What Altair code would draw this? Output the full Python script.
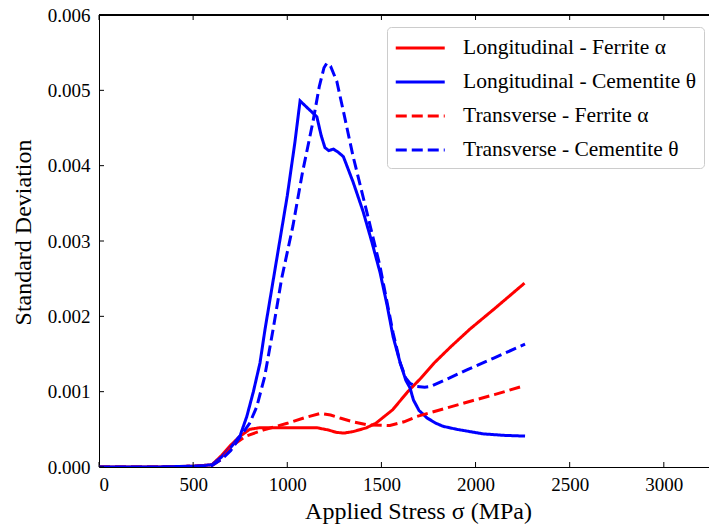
import altair as alt
import pandas as pd

# ---- data ----
series_names = [
    "Longitudinal - Ferrite α",
    "Longitudinal - Cementite θ",
    "Transverse - Ferrite α",
    "Transverse - Cementite θ",
]

lf_x = [0, 300, 500, 600, 650, 700, 750, 800, 850, 900, 1000, 1100, 1160, 1220, 1260, 1300,
        1350, 1420, 1470, 1510, 1560, 1640, 1710, 1780, 1870, 1970, 2100, 2260]
lf_y = [0, 0, 0.00001, 0.00003, 0.00015, 0.00029, 0.00041, 0.0005, 0.00052, 0.00052, 0.00052,
        0.00052, 0.00052, 0.00049, 0.00046, 0.00045, 0.00047, 0.00052, 0.00058, 0.00066, 0.00076,
        0.001, 0.00118, 0.00138, 0.0016, 0.00183, 0.0021, 0.00244]

lc_x = [0, 300, 500, 600, 650, 700, 750, 785, 820, 855, 882, 920, 962, 1000, 1040, 1068, 1110,
        1157, 1180, 1200, 1220, 1245, 1270, 1298, 1350, 1403, 1450, 1492, 1530, 1562, 1600, 1630,
        1652, 1670, 1700, 1743, 1790, 1828, 1900, 2040, 2150, 2263]
lc_y = [0, 0, 0.00001, 0.00003, 0.00013, 0.00026, 0.00042, 0.00067, 0.001, 0.00138, 0.00183,
        0.0024, 0.00303, 0.0036, 0.0043, 0.00486, 0.00476, 0.00465, 0.0044, 0.00424, 0.0042,
        0.00422, 0.00418, 0.00412, 0.00378, 0.00339, 0.00298, 0.00259, 0.00215, 0.00173, 0.00138,
        0.00115, 0.00105, 0.00089, 0.00075, 0.00065, 0.00058, 0.00054, 0.0005, 0.00044, 0.00042,
        0.00041]

tf_x = [0, 300, 500, 600, 650, 712, 780, 871, 1000, 1100, 1174, 1230, 1280, 1350, 1424, 1545,
        1620, 1688, 1800, 1954, 2100, 2260]
tf_y = [0, 0, 0.00001, 0.00002, 0.0001, 0.00029, 0.00041, 0.00049, 0.00058, 0.00066, 0.00071,
        0.00069, 0.00065, 0.0006, 0.00056, 0.00055, 0.0006, 0.00067, 0.00075, 0.00086, 0.00096,
        0.00108]

tc_x = [0, 300, 500, 600, 650, 700, 750, 800, 838, 880, 925, 970, 1030, 1080, 1137, 1170, 1195,
        1210, 1230, 1263, 1300, 1349, 1422, 1492, 1562, 1600, 1630, 1652, 1688, 1730, 1760, 1860,
        1954, 2100, 2263]
tc_y = [0, 0, 0.00001, 0.00002, 0.0001, 0.00022, 0.0004, 0.00058, 0.0008, 0.0012, 0.00183,
        0.0025, 0.0032, 0.0039, 0.00459, 0.00505, 0.0053, 0.00536, 0.00532, 0.00512, 0.0047,
        0.00413, 0.00339, 0.00267, 0.00178, 0.00138, 0.00118, 0.00111, 0.00107, 0.00106, 0.00107,
        0.00118, 0.00129, 0.00145, 0.00163]

x_ticks = [0, 500, 1000, 1500, 2000, 2500, 3000]
y_ticks = [0.0, 0.001, 0.002, 0.003, 0.004, 0.005, 0.006]

# ---- build table ----
rows = []
for name, xs, ys in zip(series_names, [lf_x, lc_x, tf_x, tc_x], [lf_y, lc_y, tf_y, tc_y]):
    for i, (a, b) in enumerate(zip(xs, ys)):
        rows.append({"series": name, "stress": a, "sd": b, "order": i})
df = pd.DataFrame(rows)

FONT = "'Liberation Serif', 'DejaVu Serif', serif"
W, H = 610, 452
x_scale = alt.Scale(domain=[0, 3240], nice=False, zero=False)
y_scale = alt.Scale(domain=[0, 0.006], nice=False)
x_axis = alt.Axis(values=x_ticks, format="d", title="Applied Stress σ (MPa)")
y_axis = alt.Axis(values=y_ticks, format=".3f", title="Standard Deviation")

legend = alt.Legend(
    title=None, orient="none", legendX=288, legendY=12,
    fillColor="white", strokeColor="#cccccc", cornerRadius=4, padding=7,
    labelFont=FONT, labelFontSize=21.5, labelColor="black", labelLimit=400,
    symbolType="M-1,0H3", symbolSize=600, symbolStrokeWidth=3, labelOffset=41,
    rowPadding=9,
)

lines = alt.Chart(df).mark_line(strokeWidth=3, clip=True).encode(
    x=alt.X("stress:Q", scale=x_scale, axis=x_axis),
    y=alt.Y("sd:Q", scale=y_scale, axis=y_axis),
    color=alt.Color("series:N",
                    scale=alt.Scale(domain=series_names,
                                    range=["#ff0000", "#0000ff", "#ff0000", "#0000ff"]),
                    legend=legend),
    strokeDash=alt.StrokeDash("series:N",
                              scale=alt.Scale(domain=series_names,
                                              range=[[1, 0], [1, 0], [11, 5], [11, 5]]),
                              legend=legend),
    order="order:Q",
)

xt = pd.DataFrame({"stress": x_ticks})
yt = pd.DataFrame({"sd": y_ticks})

tick_bottom = alt.Chart(xt).mark_rule(color="black", strokeWidth=1).encode(
    x=alt.X("stress:Q", scale=x_scale, axis=x_axis), y=alt.value(H), y2=alt.value(H - 5))
tick_top = alt.Chart(xt).mark_rule(color="black", strokeWidth=1).encode(
    x=alt.X("stress:Q", scale=x_scale, axis=x_axis), y=alt.value(0), y2=alt.value(5))
tick_left = alt.Chart(yt).mark_rule(color="black", strokeWidth=1).encode(
    y=alt.Y("sd:Q", scale=y_scale, axis=y_axis), x=alt.value(0), x2=alt.value(5))
top_spine = alt.Chart(xt).mark_rule(color="black", strokeWidth=1).encode(
    x=alt.value(0), x2=alt.value(W), y=alt.value(0))

chart = alt.layer(lines, tick_bottom, tick_top, tick_left, top_spine).properties(
    width=W, height=H,
    background="white",
    autosize=alt.AutoSizeParams(type="none"),
    padding={"left": 99, "top": 15, "right": 0, "bottom": 63},
).configure_view(stroke=None).configure_axis(
    ticks=False, grid=False, labelFontSize=19, labelFont=FONT,
    labelColor="black", domainColor="black", domainWidth=1,
    titleFont=FONT, titleFontSize=24, titleFontWeight="normal", titleColor="black",
).configure_axisX(titlePadding=5, labelPadding=8, titleX=319).configure_axisY(
    titlePadding=12, labelPadding=9, titleY=217)

chart.save("out.html", embed_options={"renderer": "svg", "actions": False})
